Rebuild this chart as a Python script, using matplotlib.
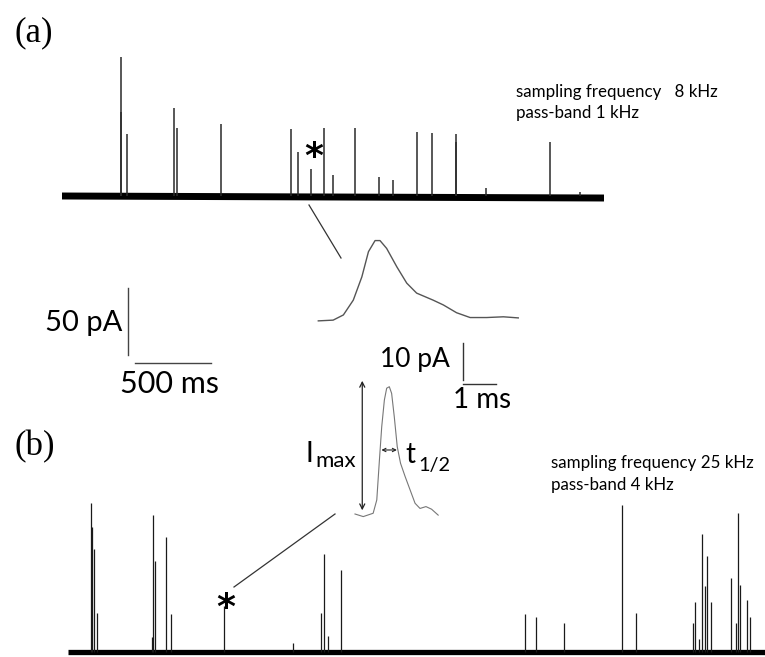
import matplotlib
matplotlib.use("Agg")
import matplotlib.pyplot as plt
from matplotlib.lines import Line2D

plt.rcParams['font.family'] = ['Lato', 'DejaVu Sans']

W, H = 765, 657

# ---- data -------------------------------------------------------------
# (a) 8 kHz recording: event times (ms) and amplitudes (pA)
a_times = [386, 388, 430, 739, 758, 1046, 1509, 1553, 1640, 1724, 1785,
           1928, 2086, 2180, 2334, 2432, 2592, 2594, 2787, 3211, 3408]
a_amps = [104, 63, 46, 66, 51, 54, 50, 33, 20, 51, 16,
          51, 14, 12, 48, 47, 46, 40, 6, 40, 3]
a_duration = 3566

# (b) 25 kHz recording
b_times = [149, 156, 171, 193, 551, 557, 570, 643, 678, 1028, 1482,
           1663, 1684, 1709, 1794, 3009, 3077, 3263, 3643, 3737,
           4114, 4125, 4153, 4171, 4189, 4206, 4228,
           4360, 4393, 4410, 4421, 4465, 4487]
b_amps = [111, 93, 77, 29, 11, 102, 68, 86, 28, 34, 7,
          29, 73, 12, 61, 28, 26, 22, 110, 29,
          22, 37, 10, 88, 49, 72, 37,
          55, 22, 104, 50, 39, 26]
b_duration = 4586

# enlarged single events: time (ms) and current (pA)
ia_t = [0.00, 0.45, 0.76, 1.06, 1.32, 1.52, 1.72, 1.87, 2.07, 2.38, 2.68,
        2.98, 3.48, 3.79, 4.19, 4.60, 5.10, 5.61, 6.06]
ia_i = [-0.1, 0.1, 1.5, 5.5, 11.8, 18.6, 21.6, 21.6, 19.5, 14.5, 10.1,
        7.4, 5.5, 4.2, 2.1, 0.8, 0.8, 1.0, 0.7]

ib_t = [0.00, 0.25, 0.55, 0.66, 0.74, 0.81, 0.89, 0.96, 1.04, 1.11, 1.19,
        1.28, 1.38, 1.52, 1.67, 1.82, 1.97, 2.15, 2.32, 2.52]
ib_i = [0.0, -0.7, 0.2, 3.8, 14.6, 23.6, 30.8, 34.0, 34.4, 32.6, 26.3,
        18.2, 13.7, 10.1, 6.5, 2.9, 1.5, 2.0, 1.3, -0.3]

# ---- layout helpers -----------------------------------------------------
fig = plt.figure(figsize=(W / 100, H / 100), dpi=100)


def axes_at(origin, sx, sy, xlim, ylim):
    """Axes whose data origin sits at pixel `origin` with sx, sy px per unit."""
    ox, oy = origin
    left = ox + xlim[0] * sx
    right = ox + xlim[1] * sx
    bottom = oy - ylim[0] * sy
    top = oy - ylim[1] * sy
    ax = fig.add_axes([left / W, 1 - bottom / H, (right - left) / W,
                       (bottom - top) / H])
    ax.set_xlim(*xlim)
    ax.set_ylim(*ylim)
    ax.axis('off')
    return ax


def ftext(x, y, s, **kw):
    fig.text(x / W, 1 - y / H, s, **kw)


def fline(p0, p1, **kw):
    fig.add_artist(Line2D([p0[0] / W, p1[0] / W], [1 - p0[1] / H, 1 - p1[1] / H],
                          transform=fig.transFigure, **kw))


SX, SY = 0.152, 1.34          # px per ms, px per pA for the long traces
ISX, ISY = 33.0, 3.7          # px per ms, px per pA for the single events

# ---- trace (a) ------------------------------------------------------------
ax_a = axes_at((62, 196), SX, SY, (0, a_duration), (-140, 110))
ax_a.plot([0, a_duration], [0, -1.5], color='black', lw=5.0, solid_capstyle='butt')
ax_a.vlines(a_times, 0, a_amps, color='#2a2a2a', lw=1.1)

# scale bars 50 pA / 500 ms
ax_a.plot([432, 432], [-69, -119], color='#444', lw=1.0, clip_on=False)
ax_a.plot([482, 982], [-124.5, -124.5], color='#444', lw=1.0, clip_on=False)

# ---- trace (b) ------------------------------------------------------------
ax_b = axes_at((68, 652), SX, SY, (0, b_duration), (-5, 120))
ax_b.plot([0, b_duration], [0, 0], color='black', lw=3.8, solid_capstyle='butt')
ax_b.vlines(b_times, 0, b_amps, color='#1a1a1a', lw=0.9)

# ---- enlarged event (a) ----------------------------------------------------
ax_ia = axes_at((318.3, 320.5), ISX, ISY, (-0.5, 6.5), (-3, 25))
ax_ia.plot(ia_t, ia_i, color='#555', lw=1.0)

# ---- enlarged event (b) ----------------------------------------------------
ax_ib = axes_at((355, 514), ISX, ISY, (-1.5, 5.0), (-3, 50))
ax_ib.plot(ib_t, ib_i, color='#777', lw=0.8)
ax_ib.annotate('', xy=(0.22, 36.0), xytext=(0.22, 1.0),
               arrowprops=dict(arrowstyle='<->', color='#222', lw=0.9,
                               shrinkA=0, shrinkB=0, mutation_scale=9))
ax_ib.annotate('', xy=(0.80, 17.3), xytext=(1.27, 17.3),
               arrowprops=dict(arrowstyle='<->', color='#222', lw=0.8,
                               shrinkA=0, shrinkB=0, mutation_scale=6))
# scale bars 10 pA / 1 ms
ax_ib.plot([3.27, 3.27], [36.2, 46.2], color='#333', lw=1.0, clip_on=False)
ax_ib.plot([3.27, 4.27], [35.1, 35.1], color='#333', lw=1.0, clip_on=False)

# connectors from marked events to their enlargements
fline((309, 205), (341, 258), color='#333', lw=0.9)
fline((335, 514), (234, 587), color='#333', lw=0.9)

# ---- text -------------------------------------------------------------
serif = dict(family=['Liberation Serif', 'DejaVu Serif'], fontsize=25)
ftext(14, 41, '(a)', ha='left', va='baseline', **serif)
ftext(14, 455, '(b)', ha='left', va='baseline', **serif)

ftext(516, 97, 'sampling frequency   8 kHz', ha='left', va='baseline', fontsize=12.2)
ftext(516, 118, 'pass-band 1 kHz', ha='left', va='baseline', fontsize=12.2)
ftext(551, 468, 'sampling frequency 25 kHz', ha='left', va='baseline', fontsize=12.2)
ftext(551, 490, 'pass-band 4 kHz', ha='left', va='baseline', fontsize=12.2)

ftext(122, 331, '50 pA', ha='right', va='baseline', fontsize=21)
ftext(120, 393, '500 ms', ha='left', va='baseline', fontsize=22)
ftext(380, 367, '10 pA', ha='left', va='baseline', fontsize=19)
ftext(453, 408, '1 ms', ha='left', va='baseline', fontsize=20)

ftext(306, 462, 'I', ha='left', va='baseline', fontsize=20)
ftext(315, 467, 'max', ha='left', va='baseline', fontsize=16)
ftext(405, 463, 't', ha='left', va='baseline', fontsize=20)
ftext(418, 471, '1/2', ha='left', va='baseline', fontsize=14.3)

star = dict(family=['DejaVu Sans'], fontsize=26, fontweight='bold',
            ha='center', va='baseline')
ftext(314, 167, '*', **star)
ftext(225.5, 618, '*', **star)

fig.savefig('out.png', dpi=100)
